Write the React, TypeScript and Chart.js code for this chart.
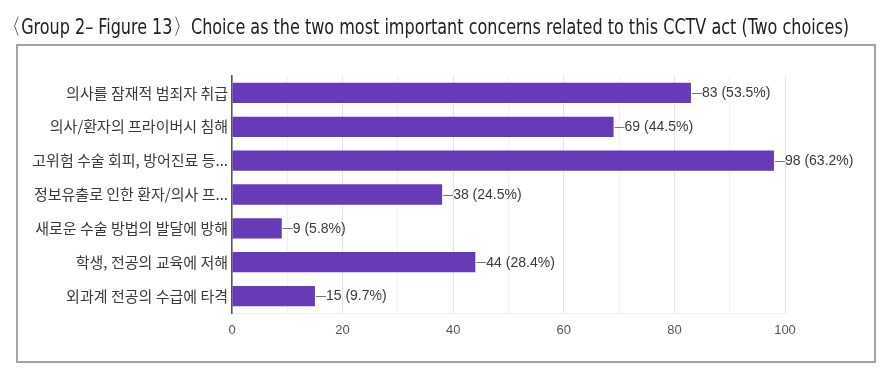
import React, { useEffect, useRef } from "react";
import { Chart, registerables } from "chart.js";

Chart.register(...registerables);

const titleOpen = "〈";
const titleMain = "Group 2– Figure 13";
const titleClose = "〉";
const titleRest = " Choice as the two most important concerns related to this CCTV act (Two choices)";

const categories = [
  "의사를 잠재적 범죄자 취급",
  "의사/환자의 프라이버시 침해",
  "고위험 수술 회피, 방어진료 등...",
  "정보유출로 인한 환자/의사 프...",
  "새로운 수술 방법의 발달에 방해",
  "학생, 전공의 교육에 저해",
  "외과계 전공의 수급에 타격",
];
const counts = [83, 69, 98, 38, 9, 44, 15];
const percents = ["53.5", "44.5", "63.2", "24.5", "5.8", "28.4", "9.7"];
const xTicks = { min: 0, max: 100, step: 10, labelEvery: 20 };

const valueLabelPlugin = {
  id: "valueLabels",
  afterDatasetsDraw(chart: any) {
    const ctx = chart.ctx;
    const meta = chart.getDatasetMeta(0);
    ctx.save();
    ctx.font = "14px 'Liberation Sans', Arial, sans-serif";
    ctx.fillStyle = "#3a3a3a";
    ctx.strokeStyle = "#777";
    ctx.lineWidth = 1;
    ctx.textBaseline = "middle";
    ctx.textAlign = "left";
    meta.data.forEach((bar: any, i: number) => {
      const x = bar.x;
      const y = Math.round(bar.y) + 0.5;
      ctx.beginPath();
      ctx.moveTo(x + 1, y);
      ctx.lineTo(x + 11, y);
      ctx.stroke();
      ctx.fillText(`${counts[i]} (${percents[i]}%)`, x + 11, bar.y + 0.5);
    });
    ctx.restore();
  },
};

export default function App() {
  const canvasRef = useRef<HTMLCanvasElement | null>(null);
  const titleRef = useRef<HTMLSpanElement | null>(null);

  useEffect(() => {
    document.body.style.margin = "0";
    const t = titleRef.current;
    if (t) {
      const w = t.getBoundingClientRect().width;
      if (w > 0) t.style.transform = `scaleX(${835 / w})`;
    }
    const canvas = canvasRef.current;
    if (!canvas) return;
    const chart = new Chart(canvas, {
      type: "bar",
      data: {
        labels: categories,
        datasets: [
          {
            data: counts,
            backgroundColor: "#673ab7",
            borderWidth: 0,
            categoryPercentage: 1,
            barPercentage: 0.6,
          },
        ],
      },
      options: {
        indexAxis: "y",
        animation: false,
        responsive: false,
        maintainAspectRatio: false,
        layout: { padding: { top: 76, right: 104, bottom: 28, left: 0 } },
        plugins: {
          legend: { display: false },
          tooltip: { enabled: false },
          title: { display: false },
        },
        scales: {
          x: {
            min: xTicks.min,
            max: xTicks.max,
            afterFit: (s: any) => {
              s.height = 30;
            },
            ticks: {
              stepSize: xTicks.step,
              autoSkip: false,
              maxRotation: 0,
              padding: 10,
              color: "#555",
              font: { size: 13, family: "'Liberation Sans', Arial, sans-serif" },
              callback: (v: any) => (Number(v) % xTicks.labelEvery === 0 ? String(v) : ""),
            },
            grid: {
              drawTicks: false,
              color: (c: any) =>
                c.tick && Number(c.tick.value) % xTicks.labelEvery === 0 ? "#e4e4e4" : "#f2f2f2",
            },
            border: { display: true, color: "#f0f0f0" },
          },
          y: {
            afterFit: (s: any) => {
              s.width = 232;
            },
            ticks: {
              padding: 4,
              color: "#3a3a3a",
              font: { size: 15, family: "'Noto Sans CJK KR', sans-serif" },
            },
            grid: { display: false, drawTicks: false },
            border: { display: true, color: "#555", width: 1.5 },
          },
        },
      },
      plugins: [valueLabelPlugin],
    });
    return () => chart.destroy();
  }, []);

  return (
    <div
      style={{
        position: "fixed",
        left: 0,
        top: 0,
        width: 889,
        height: 371,
        background: "#fff",
        overflow: "hidden",
      }}
    >
      <div
        style={{
          position: "absolute",
          left: 16,
          top: 44,
          width: 856,
          height: 315,
          border: "2px solid #a3a3a3",
        }}
      />
      <canvas
        ref={canvasRef}
        width={889}
        height={371}
        style={{ position: "absolute", left: 0, top: 0, width: 889, height: 371 }}
      />
      <div
        style={{
          position: "absolute",
          left: 14,
          top: 16,
          whiteSpace: "nowrap",
          fontFamily: "'Liberation Sans Narrow', 'DejaVu Sans Condensed', 'Liberation Sans', sans-serif",
          fontSize: 22,
          lineHeight: "22px",
          color: "#222",
        }}
      >
        <span ref={titleRef} style={{ display: "inline-block", transformOrigin: "0 0" }}>
          <span style={{ marginLeft: "-0.6em" }}>{titleOpen}</span>
          {titleMain}
          <span style={{ marginRight: "-0.25em" }}>{titleClose}</span>
          {titleRest}
        </span>
      </div>
    </div>
  );
}
